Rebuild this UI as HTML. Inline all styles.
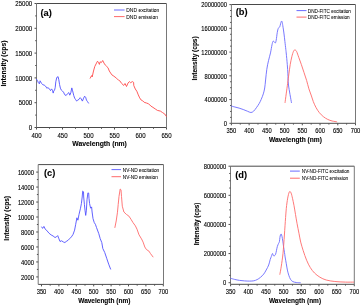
<!DOCTYPE html>
<html><head><meta charset="utf-8"><style>
html,body{margin:0;padding:0;background:#fff;width:361px;height:305px;overflow:hidden}
svg{display:block;font-family:"Liberation Sans", sans-serif}
</style></head><body>
<svg width="361" height="305" viewBox="0 0 361 305">
<defs><filter id="bl" x="0" y="0" width="361" height="305" filterUnits="userSpaceOnUse"><feGaussianBlur stdDeviation="0.3"/></filter></defs>
<rect width="361" height="305" fill="#fff"/>
<g filter="url(#bl)">
<line x1="36.50" y1="3.50" x2="166.50" y2="3.50" stroke="#4a4a4a" stroke-width="1"/>
<line x1="36.50" y1="127.50" x2="166.50" y2="127.50" stroke="#4a4a4a" stroke-width="1"/>
<line x1="36.50" y1="3.50" x2="36.50" y2="127.50" stroke="#787878" stroke-width="1"/>
<line x1="166.50" y1="3.50" x2="166.50" y2="127.50" stroke="#787878" stroke-width="1"/>
<line x1="36.50" y1="127.50" x2="36.50" y2="129.50" stroke="#505050" stroke-width="1"/>
<text transform="translate(36.50 134.80) scale(0.1 0.1250)" font-size="61.00" font-weight="normal" text-anchor="middle" dominant-baseline="central" fill="#000" stroke="#000" stroke-width="1.00">400</text>
<line x1="62.50" y1="127.50" x2="62.50" y2="129.50" stroke="#505050" stroke-width="1"/>
<text transform="translate(62.50 134.80) scale(0.1 0.1250)" font-size="61.00" font-weight="normal" text-anchor="middle" dominant-baseline="central" fill="#000" stroke="#000" stroke-width="1.00">450</text>
<line x1="88.50" y1="127.50" x2="88.50" y2="129.50" stroke="#505050" stroke-width="1"/>
<text transform="translate(88.50 134.80) scale(0.1 0.1250)" font-size="61.00" font-weight="normal" text-anchor="middle" dominant-baseline="central" fill="#000" stroke="#000" stroke-width="1.00">500</text>
<line x1="114.50" y1="127.50" x2="114.50" y2="129.50" stroke="#505050" stroke-width="1"/>
<text transform="translate(114.50 134.80) scale(0.1 0.1250)" font-size="61.00" font-weight="normal" text-anchor="middle" dominant-baseline="central" fill="#000" stroke="#000" stroke-width="1.00">550</text>
<line x1="140.50" y1="127.50" x2="140.50" y2="129.50" stroke="#505050" stroke-width="1"/>
<text transform="translate(140.50 134.80) scale(0.1 0.1250)" font-size="61.00" font-weight="normal" text-anchor="middle" dominant-baseline="central" fill="#000" stroke="#000" stroke-width="1.00">600</text>
<line x1="166.50" y1="127.50" x2="166.50" y2="129.50" stroke="#505050" stroke-width="1"/>
<text transform="translate(166.50 134.80) scale(0.1 0.1250)" font-size="61.00" font-weight="normal" text-anchor="middle" dominant-baseline="central" fill="#000" stroke="#000" stroke-width="1.00">650</text>
<line x1="49.50" y1="127.50" x2="49.50" y2="128.80" stroke="#505050" stroke-width="1"/>
<line x1="75.50" y1="127.50" x2="75.50" y2="128.80" stroke="#505050" stroke-width="1"/>
<line x1="101.50" y1="127.50" x2="101.50" y2="128.80" stroke="#505050" stroke-width="1"/>
<line x1="127.50" y1="127.50" x2="127.50" y2="128.80" stroke="#505050" stroke-width="1"/>
<line x1="153.50" y1="127.50" x2="153.50" y2="128.80" stroke="#505050" stroke-width="1"/>
<line x1="34.50" y1="127.50" x2="36.50" y2="127.50" stroke="#505050" stroke-width="1"/>
<text transform="translate(32.20 127.50) scale(0.1 0.1250)" font-size="61.00" font-weight="normal" text-anchor="end" dominant-baseline="central" fill="#000" stroke="#000" stroke-width="1.00">0</text>
<line x1="34.50" y1="102.70" x2="36.50" y2="102.70" stroke="#505050" stroke-width="1"/>
<text transform="translate(32.20 102.70) scale(0.1 0.1250)" font-size="61.00" font-weight="normal" text-anchor="end" dominant-baseline="central" fill="#000" stroke="#000" stroke-width="1.00">5000</text>
<line x1="34.50" y1="77.90" x2="36.50" y2="77.90" stroke="#505050" stroke-width="1"/>
<text transform="translate(32.20 77.90) scale(0.1 0.1250)" font-size="61.00" font-weight="normal" text-anchor="end" dominant-baseline="central" fill="#000" stroke="#000" stroke-width="1.00">10000</text>
<line x1="34.50" y1="53.10" x2="36.50" y2="53.10" stroke="#505050" stroke-width="1"/>
<text transform="translate(32.20 53.10) scale(0.1 0.1250)" font-size="61.00" font-weight="normal" text-anchor="end" dominant-baseline="central" fill="#000" stroke="#000" stroke-width="1.00">15000</text>
<line x1="34.50" y1="28.30" x2="36.50" y2="28.30" stroke="#505050" stroke-width="1"/>
<text transform="translate(32.20 28.30) scale(0.1 0.1250)" font-size="61.00" font-weight="normal" text-anchor="end" dominant-baseline="central" fill="#000" stroke="#000" stroke-width="1.00">20000</text>
<line x1="34.50" y1="3.50" x2="36.50" y2="3.50" stroke="#505050" stroke-width="1"/>
<text transform="translate(32.20 3.50) scale(0.1 0.1250)" font-size="61.00" font-weight="normal" text-anchor="end" dominant-baseline="central" fill="#000" stroke="#000" stroke-width="1.00">25000</text>
<line x1="35.20" y1="115.10" x2="36.50" y2="115.10" stroke="#505050" stroke-width="1"/>
<line x1="35.20" y1="90.30" x2="36.50" y2="90.30" stroke="#505050" stroke-width="1"/>
<line x1="35.20" y1="65.50" x2="36.50" y2="65.50" stroke="#505050" stroke-width="1"/>
<line x1="35.20" y1="40.70" x2="36.50" y2="40.70" stroke="#505050" stroke-width="1"/>
<line x1="35.20" y1="15.90" x2="36.50" y2="15.90" stroke="#505050" stroke-width="1"/>
<text transform="translate(99.60 143.40) scale(0.1 0.1000)" font-size="68.00" font-weight="bold" text-anchor="middle" dominant-baseline="central" fill="#000" stroke="#000" stroke-width="1.00">Wavelength (nm)</text>
<text transform="translate(3.90 63.50) rotate(-90) scale(0.1 0.1000)" font-size="68.00" font-weight="bold" text-anchor="middle" dominant-baseline="central" fill="#000" stroke="#000" stroke-width="1.00">Intensity (cps)</text>
<text transform="translate(40.40 12.60) scale(0.1 0.1000)" font-size="93.00" font-weight="bold" text-anchor="start" dominant-baseline="central" fill="#000" stroke="#000" stroke-width="1.00">(a)</text>
<line x1="114.00" y1="10.00" x2="124.60" y2="10.00" stroke="#6a6aff" stroke-width="1"/>
<line x1="114.00" y1="16.60" x2="124.60" y2="16.60" stroke="#ff6a6a" stroke-width="1"/>
<text transform="translate(126.30 10.00) scale(0.1 0.1120)" font-size="49.50" font-weight="normal" text-anchor="start" dominant-baseline="central" fill="#000" stroke="#000" stroke-width="0.50">DND excitation</text>
<text transform="translate(126.30 16.60) scale(0.1 0.1120)" font-size="49.50" font-weight="normal" text-anchor="start" dominant-baseline="central" fill="#000" stroke="#000" stroke-width="0.50">DND emission</text>
<line x1="231.40" y1="4.50" x2="355.50" y2="4.50" stroke="#4a4a4a" stroke-width="1"/>
<line x1="231.40" y1="123.30" x2="355.50" y2="123.30" stroke="#4a4a4a" stroke-width="1"/>
<line x1="231.40" y1="4.50" x2="231.40" y2="123.30" stroke="#787878" stroke-width="1"/>
<line x1="355.50" y1="4.50" x2="355.50" y2="123.30" stroke="#787878" stroke-width="1"/>
<line x1="231.40" y1="123.30" x2="231.40" y2="125.30" stroke="#505050" stroke-width="1"/>
<text transform="translate(231.40 130.50) scale(0.1 0.1250)" font-size="58.00" font-weight="normal" text-anchor="middle" dominant-baseline="central" fill="#000" stroke="#000" stroke-width="1.00">350</text>
<line x1="249.13" y1="123.30" x2="249.13" y2="125.30" stroke="#505050" stroke-width="1"/>
<text transform="translate(249.13 130.50) scale(0.1 0.1250)" font-size="58.00" font-weight="normal" text-anchor="middle" dominant-baseline="central" fill="#000" stroke="#000" stroke-width="1.00">400</text>
<line x1="266.86" y1="123.30" x2="266.86" y2="125.30" stroke="#505050" stroke-width="1"/>
<text transform="translate(266.86 130.50) scale(0.1 0.1250)" font-size="58.00" font-weight="normal" text-anchor="middle" dominant-baseline="central" fill="#000" stroke="#000" stroke-width="1.00">450</text>
<line x1="284.59" y1="123.30" x2="284.59" y2="125.30" stroke="#505050" stroke-width="1"/>
<text transform="translate(284.59 130.50) scale(0.1 0.1250)" font-size="58.00" font-weight="normal" text-anchor="middle" dominant-baseline="central" fill="#000" stroke="#000" stroke-width="1.00">500</text>
<line x1="302.31" y1="123.30" x2="302.31" y2="125.30" stroke="#505050" stroke-width="1"/>
<text transform="translate(302.31 130.50) scale(0.1 0.1250)" font-size="58.00" font-weight="normal" text-anchor="middle" dominant-baseline="central" fill="#000" stroke="#000" stroke-width="1.00">550</text>
<line x1="320.04" y1="123.30" x2="320.04" y2="125.30" stroke="#505050" stroke-width="1"/>
<text transform="translate(320.04 130.50) scale(0.1 0.1250)" font-size="58.00" font-weight="normal" text-anchor="middle" dominant-baseline="central" fill="#000" stroke="#000" stroke-width="1.00">600</text>
<line x1="337.77" y1="123.30" x2="337.77" y2="125.30" stroke="#505050" stroke-width="1"/>
<text transform="translate(337.77 130.50) scale(0.1 0.1250)" font-size="58.00" font-weight="normal" text-anchor="middle" dominant-baseline="central" fill="#000" stroke="#000" stroke-width="1.00">650</text>
<line x1="355.50" y1="123.30" x2="355.50" y2="125.30" stroke="#505050" stroke-width="1"/>
<text transform="translate(355.50 130.50) scale(0.1 0.1250)" font-size="58.00" font-weight="normal" text-anchor="middle" dominant-baseline="central" fill="#000" stroke="#000" stroke-width="1.00">700</text>
<line x1="240.26" y1="123.30" x2="240.26" y2="124.60" stroke="#505050" stroke-width="1"/>
<line x1="257.99" y1="123.30" x2="257.99" y2="124.60" stroke="#505050" stroke-width="1"/>
<line x1="275.72" y1="123.30" x2="275.72" y2="124.60" stroke="#505050" stroke-width="1"/>
<line x1="293.45" y1="123.30" x2="293.45" y2="124.60" stroke="#505050" stroke-width="1"/>
<line x1="311.18" y1="123.30" x2="311.18" y2="124.60" stroke="#505050" stroke-width="1"/>
<line x1="328.91" y1="123.30" x2="328.91" y2="124.60" stroke="#505050" stroke-width="1"/>
<line x1="346.64" y1="123.30" x2="346.64" y2="124.60" stroke="#505050" stroke-width="1"/>
<line x1="229.40" y1="123.30" x2="231.40" y2="123.30" stroke="#505050" stroke-width="1"/>
<text transform="translate(227.00 123.30) scale(0.1 0.1250)" font-size="58.00" font-weight="normal" text-anchor="end" dominant-baseline="central" fill="#000" stroke="#000" stroke-width="1.00">0</text>
<line x1="229.40" y1="99.56" x2="231.40" y2="99.56" stroke="#505050" stroke-width="1"/>
<text transform="translate(227.00 99.56) scale(0.1 0.1250)" font-size="58.00" font-weight="normal" text-anchor="end" dominant-baseline="central" fill="#000" stroke="#000" stroke-width="1.00">4000000</text>
<line x1="229.40" y1="75.82" x2="231.40" y2="75.82" stroke="#505050" stroke-width="1"/>
<text transform="translate(227.00 75.82) scale(0.1 0.1250)" font-size="58.00" font-weight="normal" text-anchor="end" dominant-baseline="central" fill="#000" stroke="#000" stroke-width="1.00">8000000</text>
<line x1="229.40" y1="52.08" x2="231.40" y2="52.08" stroke="#505050" stroke-width="1"/>
<text transform="translate(227.00 52.08) scale(0.1 0.1250)" font-size="58.00" font-weight="normal" text-anchor="end" dominant-baseline="central" fill="#000" stroke="#000" stroke-width="1.00">12000000</text>
<line x1="229.40" y1="28.34" x2="231.40" y2="28.34" stroke="#505050" stroke-width="1"/>
<text transform="translate(227.00 28.34) scale(0.1 0.1250)" font-size="58.00" font-weight="normal" text-anchor="end" dominant-baseline="central" fill="#000" stroke="#000" stroke-width="1.00">16000000</text>
<line x1="229.40" y1="4.60" x2="231.40" y2="4.60" stroke="#505050" stroke-width="1"/>
<text transform="translate(227.00 4.60) scale(0.1 0.1250)" font-size="58.00" font-weight="normal" text-anchor="end" dominant-baseline="central" fill="#000" stroke="#000" stroke-width="1.00">20000000</text>
<line x1="230.10" y1="117.36" x2="231.40" y2="117.36" stroke="#505050" stroke-width="1"/>
<line x1="230.10" y1="111.43" x2="231.40" y2="111.43" stroke="#505050" stroke-width="1"/>
<line x1="230.10" y1="105.50" x2="231.40" y2="105.50" stroke="#505050" stroke-width="1"/>
<line x1="230.10" y1="93.62" x2="231.40" y2="93.62" stroke="#505050" stroke-width="1"/>
<line x1="230.10" y1="87.69" x2="231.40" y2="87.69" stroke="#505050" stroke-width="1"/>
<line x1="230.10" y1="81.75" x2="231.40" y2="81.75" stroke="#505050" stroke-width="1"/>
<line x1="230.10" y1="69.88" x2="231.40" y2="69.88" stroke="#505050" stroke-width="1"/>
<line x1="230.10" y1="63.95" x2="231.40" y2="63.95" stroke="#505050" stroke-width="1"/>
<line x1="230.10" y1="58.02" x2="231.40" y2="58.02" stroke="#505050" stroke-width="1"/>
<line x1="230.10" y1="46.14" x2="231.40" y2="46.14" stroke="#505050" stroke-width="1"/>
<line x1="230.10" y1="40.21" x2="231.40" y2="40.21" stroke="#505050" stroke-width="1"/>
<line x1="230.10" y1="34.27" x2="231.40" y2="34.27" stroke="#505050" stroke-width="1"/>
<line x1="230.10" y1="22.41" x2="231.40" y2="22.41" stroke="#505050" stroke-width="1"/>
<line x1="230.10" y1="16.47" x2="231.40" y2="16.47" stroke="#505050" stroke-width="1"/>
<line x1="230.10" y1="10.53" x2="231.40" y2="10.53" stroke="#505050" stroke-width="1"/>
<text transform="translate(295.40 139.40) scale(0.1 0.1000)" font-size="66.00" font-weight="bold" text-anchor="middle" dominant-baseline="central" fill="#000" stroke="#000" stroke-width="1.00">Wavelength (nm)</text>
<text transform="translate(194.70 58.40) rotate(-90) scale(0.1 0.1000)" font-size="65.00" font-weight="bold" text-anchor="middle" dominant-baseline="central" fill="#000" stroke="#000" stroke-width="1.00">Intensity (cps)</text>
<text transform="translate(235.70 12.40) scale(0.1 0.1000)" font-size="93.00" font-weight="bold" text-anchor="start" dominant-baseline="central" fill="#000" stroke="#000" stroke-width="1.00">(b)</text>
<line x1="296.50" y1="10.60" x2="306.50" y2="10.60" stroke="#6a6aff" stroke-width="1"/>
<line x1="296.50" y1="17.10" x2="306.50" y2="17.10" stroke="#ff6a6a" stroke-width="1"/>
<text transform="translate(307.80 10.60) scale(0.1 0.1120)" font-size="47.00" font-weight="normal" text-anchor="start" dominant-baseline="central" fill="#000" stroke="#000" stroke-width="0.50">DND-FITC excitation</text>
<text transform="translate(307.80 17.10) scale(0.1 0.1120)" font-size="47.00" font-weight="normal" text-anchor="start" dominant-baseline="central" fill="#000" stroke="#000" stroke-width="0.50">DND-FITC emission</text>
<line x1="38.20" y1="164.60" x2="163.50" y2="164.60" stroke="#4a4a4a" stroke-width="1"/>
<line x1="38.20" y1="284.40" x2="163.50" y2="284.40" stroke="#4a4a4a" stroke-width="1"/>
<line x1="38.20" y1="164.60" x2="38.20" y2="284.40" stroke="#787878" stroke-width="1"/>
<line x1="163.50" y1="164.60" x2="163.50" y2="284.40" stroke="#787878" stroke-width="1"/>
<line x1="41.50" y1="284.40" x2="41.50" y2="286.40" stroke="#505050" stroke-width="1"/>
<text transform="translate(41.50 291.70) scale(0.1 0.1250)" font-size="58.00" font-weight="normal" text-anchor="middle" dominant-baseline="central" fill="#000" stroke="#000" stroke-width="1.00">350</text>
<line x1="58.90" y1="284.40" x2="58.90" y2="286.40" stroke="#505050" stroke-width="1"/>
<text transform="translate(58.90 291.70) scale(0.1 0.1250)" font-size="58.00" font-weight="normal" text-anchor="middle" dominant-baseline="central" fill="#000" stroke="#000" stroke-width="1.00">400</text>
<line x1="76.30" y1="284.40" x2="76.30" y2="286.40" stroke="#505050" stroke-width="1"/>
<text transform="translate(76.30 291.70) scale(0.1 0.1250)" font-size="58.00" font-weight="normal" text-anchor="middle" dominant-baseline="central" fill="#000" stroke="#000" stroke-width="1.00">450</text>
<line x1="93.70" y1="284.40" x2="93.70" y2="286.40" stroke="#505050" stroke-width="1"/>
<text transform="translate(93.70 291.70) scale(0.1 0.1250)" font-size="58.00" font-weight="normal" text-anchor="middle" dominant-baseline="central" fill="#000" stroke="#000" stroke-width="1.00">500</text>
<line x1="111.10" y1="284.40" x2="111.10" y2="286.40" stroke="#505050" stroke-width="1"/>
<text transform="translate(111.10 291.70) scale(0.1 0.1250)" font-size="58.00" font-weight="normal" text-anchor="middle" dominant-baseline="central" fill="#000" stroke="#000" stroke-width="1.00">550</text>
<line x1="128.50" y1="284.40" x2="128.50" y2="286.40" stroke="#505050" stroke-width="1"/>
<text transform="translate(128.50 291.70) scale(0.1 0.1250)" font-size="58.00" font-weight="normal" text-anchor="middle" dominant-baseline="central" fill="#000" stroke="#000" stroke-width="1.00">600</text>
<line x1="145.90" y1="284.40" x2="145.90" y2="286.40" stroke="#505050" stroke-width="1"/>
<text transform="translate(145.90 291.70) scale(0.1 0.1250)" font-size="58.00" font-weight="normal" text-anchor="middle" dominant-baseline="central" fill="#000" stroke="#000" stroke-width="1.00">650</text>
<line x1="163.30" y1="284.40" x2="163.30" y2="286.40" stroke="#505050" stroke-width="1"/>
<text transform="translate(163.30 291.70) scale(0.1 0.1250)" font-size="58.00" font-weight="normal" text-anchor="middle" dominant-baseline="central" fill="#000" stroke="#000" stroke-width="1.00">700</text>
<line x1="50.20" y1="284.40" x2="50.20" y2="285.70" stroke="#505050" stroke-width="1"/>
<line x1="67.60" y1="284.40" x2="67.60" y2="285.70" stroke="#505050" stroke-width="1"/>
<line x1="85.00" y1="284.40" x2="85.00" y2="285.70" stroke="#505050" stroke-width="1"/>
<line x1="102.40" y1="284.40" x2="102.40" y2="285.70" stroke="#505050" stroke-width="1"/>
<line x1="119.80" y1="284.40" x2="119.80" y2="285.70" stroke="#505050" stroke-width="1"/>
<line x1="137.20" y1="284.40" x2="137.20" y2="285.70" stroke="#505050" stroke-width="1"/>
<line x1="154.60" y1="284.40" x2="154.60" y2="285.70" stroke="#505050" stroke-width="1"/>
<line x1="36.20" y1="276.91" x2="38.20" y2="276.91" stroke="#505050" stroke-width="1"/>
<text transform="translate(34.00 276.91) scale(0.1 0.1250)" font-size="58.00" font-weight="normal" text-anchor="end" dominant-baseline="central" fill="#000" stroke="#000" stroke-width="1.00">2000</text>
<line x1="36.20" y1="261.94" x2="38.20" y2="261.94" stroke="#505050" stroke-width="1"/>
<text transform="translate(34.00 261.94) scale(0.1 0.1250)" font-size="58.00" font-weight="normal" text-anchor="end" dominant-baseline="central" fill="#000" stroke="#000" stroke-width="1.00">4000</text>
<line x1="36.20" y1="246.96" x2="38.20" y2="246.96" stroke="#505050" stroke-width="1"/>
<text transform="translate(34.00 246.96) scale(0.1 0.1250)" font-size="58.00" font-weight="normal" text-anchor="end" dominant-baseline="central" fill="#000" stroke="#000" stroke-width="1.00">6000</text>
<line x1="36.20" y1="231.99" x2="38.20" y2="231.99" stroke="#505050" stroke-width="1"/>
<text transform="translate(34.00 231.99) scale(0.1 0.1250)" font-size="58.00" font-weight="normal" text-anchor="end" dominant-baseline="central" fill="#000" stroke="#000" stroke-width="1.00">8000</text>
<line x1="36.20" y1="217.01" x2="38.20" y2="217.01" stroke="#505050" stroke-width="1"/>
<text transform="translate(34.00 217.01) scale(0.1 0.1250)" font-size="58.00" font-weight="normal" text-anchor="end" dominant-baseline="central" fill="#000" stroke="#000" stroke-width="1.00">10000</text>
<line x1="36.20" y1="202.04" x2="38.20" y2="202.04" stroke="#505050" stroke-width="1"/>
<text transform="translate(34.00 202.04) scale(0.1 0.1250)" font-size="58.00" font-weight="normal" text-anchor="end" dominant-baseline="central" fill="#000" stroke="#000" stroke-width="1.00">12000</text>
<line x1="36.20" y1="187.06" x2="38.20" y2="187.06" stroke="#505050" stroke-width="1"/>
<text transform="translate(34.00 187.06) scale(0.1 0.1250)" font-size="58.00" font-weight="normal" text-anchor="end" dominant-baseline="central" fill="#000" stroke="#000" stroke-width="1.00">14000</text>
<line x1="36.20" y1="172.09" x2="38.20" y2="172.09" stroke="#505050" stroke-width="1"/>
<text transform="translate(34.00 172.09) scale(0.1 0.1250)" font-size="58.00" font-weight="normal" text-anchor="end" dominant-baseline="central" fill="#000" stroke="#000" stroke-width="1.00">16000</text>
<line x1="36.90" y1="269.42" x2="38.20" y2="269.42" stroke="#505050" stroke-width="1"/>
<line x1="36.90" y1="254.45" x2="38.20" y2="254.45" stroke="#505050" stroke-width="1"/>
<line x1="36.90" y1="239.47" x2="38.20" y2="239.47" stroke="#505050" stroke-width="1"/>
<line x1="36.90" y1="224.50" x2="38.20" y2="224.50" stroke="#505050" stroke-width="1"/>
<line x1="36.90" y1="209.52" x2="38.20" y2="209.52" stroke="#505050" stroke-width="1"/>
<line x1="36.90" y1="194.55" x2="38.20" y2="194.55" stroke="#505050" stroke-width="1"/>
<line x1="36.90" y1="179.57" x2="38.20" y2="179.57" stroke="#505050" stroke-width="1"/>
<text transform="translate(104.30 300.00) scale(0.1 0.1000)" font-size="65.00" font-weight="bold" text-anchor="middle" dominant-baseline="central" fill="#000" stroke="#000" stroke-width="1.00">Wavelength (nm)</text>
<text transform="translate(6.10 218.30) rotate(-90) scale(0.1 0.1000)" font-size="66.00" font-weight="bold" text-anchor="middle" dominant-baseline="central" fill="#000" stroke="#000" stroke-width="1.00">Intensity (cps)</text>
<text transform="translate(44.00 173.40) scale(0.1 0.1000)" font-size="93.00" font-weight="bold" text-anchor="start" dominant-baseline="central" fill="#000" stroke="#000" stroke-width="1.00">(c)</text>
<line x1="111.50" y1="169.60" x2="121.00" y2="169.60" stroke="#6a6aff" stroke-width="1"/>
<line x1="111.50" y1="176.70" x2="121.00" y2="176.70" stroke="#ff6a6a" stroke-width="1"/>
<text transform="translate(122.80 169.60) scale(0.1 0.1120)" font-size="48.00" font-weight="normal" text-anchor="start" dominant-baseline="central" fill="#000" stroke="#000" stroke-width="0.50">NV-ND excitation</text>
<text transform="translate(122.80 176.70) scale(0.1 0.1120)" font-size="48.00" font-weight="normal" text-anchor="start" dominant-baseline="central" fill="#000" stroke="#000" stroke-width="0.50">NV-ND emission</text>
<line x1="230.50" y1="166.20" x2="354.30" y2="166.20" stroke="#4a4a4a" stroke-width="1"/>
<line x1="230.50" y1="284.30" x2="354.30" y2="284.30" stroke="#4a4a4a" stroke-width="1"/>
<line x1="230.50" y1="166.20" x2="230.50" y2="284.30" stroke="#787878" stroke-width="1"/>
<line x1="354.30" y1="166.20" x2="354.30" y2="284.30" stroke="#787878" stroke-width="1"/>
<line x1="230.60" y1="284.30" x2="230.60" y2="286.30" stroke="#505050" stroke-width="1"/>
<text transform="translate(230.60 291.50) scale(0.1 0.1250)" font-size="58.00" font-weight="normal" text-anchor="middle" dominant-baseline="central" fill="#000" stroke="#000" stroke-width="1.00">350</text>
<line x1="248.27" y1="284.30" x2="248.27" y2="286.30" stroke="#505050" stroke-width="1"/>
<text transform="translate(248.27 291.50) scale(0.1 0.1250)" font-size="58.00" font-weight="normal" text-anchor="middle" dominant-baseline="central" fill="#000" stroke="#000" stroke-width="1.00">400</text>
<line x1="265.94" y1="284.30" x2="265.94" y2="286.30" stroke="#505050" stroke-width="1"/>
<text transform="translate(265.94 291.50) scale(0.1 0.1250)" font-size="58.00" font-weight="normal" text-anchor="middle" dominant-baseline="central" fill="#000" stroke="#000" stroke-width="1.00">450</text>
<line x1="283.61" y1="284.30" x2="283.61" y2="286.30" stroke="#505050" stroke-width="1"/>
<text transform="translate(283.61 291.50) scale(0.1 0.1250)" font-size="58.00" font-weight="normal" text-anchor="middle" dominant-baseline="central" fill="#000" stroke="#000" stroke-width="1.00">500</text>
<line x1="301.29" y1="284.30" x2="301.29" y2="286.30" stroke="#505050" stroke-width="1"/>
<text transform="translate(301.29 291.50) scale(0.1 0.1250)" font-size="58.00" font-weight="normal" text-anchor="middle" dominant-baseline="central" fill="#000" stroke="#000" stroke-width="1.00">550</text>
<line x1="318.96" y1="284.30" x2="318.96" y2="286.30" stroke="#505050" stroke-width="1"/>
<text transform="translate(318.96 291.50) scale(0.1 0.1250)" font-size="58.00" font-weight="normal" text-anchor="middle" dominant-baseline="central" fill="#000" stroke="#000" stroke-width="1.00">600</text>
<line x1="336.63" y1="284.30" x2="336.63" y2="286.30" stroke="#505050" stroke-width="1"/>
<text transform="translate(336.63 291.50) scale(0.1 0.1250)" font-size="58.00" font-weight="normal" text-anchor="middle" dominant-baseline="central" fill="#000" stroke="#000" stroke-width="1.00">650</text>
<line x1="354.30" y1="284.30" x2="354.30" y2="286.30" stroke="#505050" stroke-width="1"/>
<text transform="translate(354.30 291.50) scale(0.1 0.1250)" font-size="58.00" font-weight="normal" text-anchor="middle" dominant-baseline="central" fill="#000" stroke="#000" stroke-width="1.00">700</text>
<line x1="239.44" y1="284.30" x2="239.44" y2="285.60" stroke="#505050" stroke-width="1"/>
<line x1="257.11" y1="284.30" x2="257.11" y2="285.60" stroke="#505050" stroke-width="1"/>
<line x1="274.78" y1="284.30" x2="274.78" y2="285.60" stroke="#505050" stroke-width="1"/>
<line x1="292.45" y1="284.30" x2="292.45" y2="285.60" stroke="#505050" stroke-width="1"/>
<line x1="310.12" y1="284.30" x2="310.12" y2="285.60" stroke="#505050" stroke-width="1"/>
<line x1="327.79" y1="284.30" x2="327.79" y2="285.60" stroke="#505050" stroke-width="1"/>
<line x1="345.46" y1="284.30" x2="345.46" y2="285.60" stroke="#505050" stroke-width="1"/>
<line x1="228.50" y1="282.70" x2="230.50" y2="282.70" stroke="#505050" stroke-width="1"/>
<text transform="translate(226.20 282.70) scale(0.1 0.1250)" font-size="58.00" font-weight="normal" text-anchor="end" dominant-baseline="central" fill="#000" stroke="#000" stroke-width="1.00">0</text>
<line x1="228.50" y1="253.57" x2="230.50" y2="253.57" stroke="#505050" stroke-width="1"/>
<text transform="translate(226.20 253.57) scale(0.1 0.1250)" font-size="58.00" font-weight="normal" text-anchor="end" dominant-baseline="central" fill="#000" stroke="#000" stroke-width="1.00">2000000</text>
<line x1="228.50" y1="224.45" x2="230.50" y2="224.45" stroke="#505050" stroke-width="1"/>
<text transform="translate(226.20 224.45) scale(0.1 0.1250)" font-size="58.00" font-weight="normal" text-anchor="end" dominant-baseline="central" fill="#000" stroke="#000" stroke-width="1.00">4000000</text>
<line x1="228.50" y1="195.32" x2="230.50" y2="195.32" stroke="#505050" stroke-width="1"/>
<text transform="translate(226.20 195.32) scale(0.1 0.1250)" font-size="58.00" font-weight="normal" text-anchor="end" dominant-baseline="central" fill="#000" stroke="#000" stroke-width="1.00">6000000</text>
<line x1="228.50" y1="166.20" x2="230.50" y2="166.20" stroke="#505050" stroke-width="1"/>
<text transform="translate(226.20 166.20) scale(0.1 0.1250)" font-size="58.00" font-weight="normal" text-anchor="end" dominant-baseline="central" fill="#000" stroke="#000" stroke-width="1.00">8000000</text>
<line x1="229.20" y1="275.42" x2="230.50" y2="275.42" stroke="#505050" stroke-width="1"/>
<line x1="229.20" y1="268.14" x2="230.50" y2="268.14" stroke="#505050" stroke-width="1"/>
<line x1="229.20" y1="260.86" x2="230.50" y2="260.86" stroke="#505050" stroke-width="1"/>
<line x1="229.20" y1="246.29" x2="230.50" y2="246.29" stroke="#505050" stroke-width="1"/>
<line x1="229.20" y1="239.01" x2="230.50" y2="239.01" stroke="#505050" stroke-width="1"/>
<line x1="229.20" y1="231.73" x2="230.50" y2="231.73" stroke="#505050" stroke-width="1"/>
<line x1="229.20" y1="217.17" x2="230.50" y2="217.17" stroke="#505050" stroke-width="1"/>
<line x1="229.20" y1="209.89" x2="230.50" y2="209.89" stroke="#505050" stroke-width="1"/>
<line x1="229.20" y1="202.61" x2="230.50" y2="202.61" stroke="#505050" stroke-width="1"/>
<line x1="229.20" y1="188.04" x2="230.50" y2="188.04" stroke="#505050" stroke-width="1"/>
<line x1="229.20" y1="180.76" x2="230.50" y2="180.76" stroke="#505050" stroke-width="1"/>
<line x1="229.20" y1="173.48" x2="230.50" y2="173.48" stroke="#505050" stroke-width="1"/>
<text transform="translate(295.00 300.40) scale(0.1 0.1000)" font-size="65.00" font-weight="bold" text-anchor="middle" dominant-baseline="central" fill="#000" stroke="#000" stroke-width="1.00">Wavelength (nm)</text>
<text transform="translate(196.20 224.00) rotate(-90) scale(0.1 0.1000)" font-size="63.00" font-weight="bold" text-anchor="middle" dominant-baseline="central" fill="#000" stroke="#000" stroke-width="1.00">Intensity (cps)</text>
<text transform="translate(235.20 175.20) scale(0.1 0.1000)" font-size="93.00" font-weight="bold" text-anchor="start" dominant-baseline="central" fill="#000" stroke="#000" stroke-width="1.00">(d)</text>
<line x1="290.00" y1="171.10" x2="299.80" y2="171.10" stroke="#6a6aff" stroke-width="1"/>
<line x1="290.00" y1="178.20" x2="299.80" y2="178.20" stroke="#ff6a6a" stroke-width="1"/>
<text transform="translate(301.80 171.10) scale(0.1 0.1120)" font-size="47.00" font-weight="normal" text-anchor="start" dominant-baseline="central" fill="#000" stroke="#000" stroke-width="0.50">NV-ND-FITC excitation</text>
<text transform="translate(301.80 178.20) scale(0.1 0.1120)" font-size="47.00" font-weight="normal" text-anchor="start" dominant-baseline="central" fill="#000" stroke="#000" stroke-width="0.50">NV-ND-FITC emission</text>
<polyline points="36.50,79.30 37.50,80.60 38.40,82.80 39.40,83.80 40.10,80.80 40.70,81.80 41.40,83.30 42.90,84.70 44.30,85.20 45.30,85.90 46.30,87.20 46.80,88.20 47.80,87.70 48.80,88.20 49.80,89.70 50.50,90.60 51.50,88.90 52.50,90.20 53.20,93.10 53.70,91.10 54.50,90.20 55.20,87.70 55.80,81.80 56.80,77.40 58.10,76.70 58.80,79.80 59.60,84.70 60.40,88.20 61.40,90.20 62.50,91.10 63.50,92.10 64.70,94.70 66.10,95.50 67.40,93.80 68.80,92.60 69.80,95.20 70.80,92.80 71.80,87.90 72.60,90.80 73.80,95.70 74.70,98.20 75.70,99.70 76.70,101.10 77.70,100.20 79.20,99.20 80.20,97.70 81.10,98.70 82.40,101.10 83.60,98.20 84.60,96.20 85.60,97.20 86.50,100.20 87.50,101.60 88.50,103.10" fill="none" stroke="#5050ff" stroke-width="0.9" stroke-linejoin="round" stroke-linecap="round"/>
<polyline points="90.20,78.20 91.60,75.60 92.20,76.90 93.50,71.00 94.80,66.40 96.50,63.10 97.50,61.20 98.50,62.50 99.40,64.40 100.10,61.80 101.40,62.50 102.70,60.50 104.00,63.10 105.30,65.10 106.70,66.40 108.00,67.70 109.30,71.00 110.60,73.00 111.90,74.90 113.90,76.20 116.50,78.20 118.50,80.20 119.80,80.80 121.70,83.50 123.70,85.40 125.00,83.50 126.50,86.50 128.00,83.10 129.40,81.60 130.60,82.70 132.40,81.60 133.60,82.40 133.80,85.60 135.30,89.00 136.80,91.20 138.30,94.90 139.70,97.90 141.20,100.10 142.70,100.80 144.20,102.30 146.40,103.00 148.60,103.80 150.80,106.00 153.00,107.40 155.20,108.90 157.40,110.40 160.40,111.10 162.60,112.60 164.80,114.10 166.30,116.30" fill="none" stroke="#ff4a4a" stroke-width="0.9" stroke-linejoin="round" stroke-linecap="round"/>
<path d="M231.00,106.00 C231.65,106.17 233.55,106.65 234.90,107.00 C236.25,107.35 237.72,107.68 239.10,108.10 C240.48,108.52 241.82,108.98 243.20,109.50 C244.58,110.02 246.12,110.70 247.40,111.20 C248.68,111.70 249.87,112.50 250.90,112.50 C251.93,112.50 252.68,112.00 253.60,111.20 C254.52,110.40 255.47,108.98 256.40,107.70 C257.33,106.42 258.40,104.88 259.20,103.50 C260.00,102.12 260.52,101.00 261.20,99.40 C261.88,97.80 262.72,95.80 263.30,93.90 C263.88,92.00 264.32,90.32 264.70,88.00 C265.08,85.68 265.25,83.12 265.60,80.00 C265.95,76.88 266.32,72.52 266.80,69.30 C267.28,66.08 267.88,63.43 268.50,60.70 C269.12,57.97 269.92,55.55 270.50,52.90 C271.08,50.25 271.57,46.75 272.00,44.80 C272.43,42.85 272.70,41.65 273.10,41.20 C273.50,40.75 274.03,41.80 274.40,42.10 C274.77,42.40 275.00,43.32 275.30,43.00 C275.60,42.68 275.87,41.98 276.20,40.20 C276.53,38.42 276.95,34.27 277.30,32.30 C277.65,30.33 277.90,29.32 278.30,28.40 C278.70,27.48 279.32,27.57 279.70,26.80 C280.08,26.03 280.30,24.75 280.60,23.80 C280.90,22.85 281.22,21.32 281.50,21.10 C281.78,20.88 282.08,21.73 282.30,22.50 C282.52,23.27 282.53,23.95 282.80,25.70 C283.07,27.45 283.55,30.37 283.90,33.00 C284.25,35.63 284.58,38.78 284.90,41.50 C285.22,44.22 285.58,47.40 285.80,49.30 C286.02,51.20 285.95,50.33 286.20,52.90 C286.45,55.47 287.02,61.20 287.30,64.70 C287.58,68.20 287.70,70.52 287.90,73.90 C288.10,77.28 287.90,80.17 288.50,85.00 C289.10,89.83 291.00,99.92 291.50,102.90" fill="none" stroke="#6a6aff" stroke-width="0.9" stroke-linejoin="round"/>
<path d="M285.00,102.90 C285.43,99.70 286.95,88.53 287.60,83.70 C288.25,78.87 288.47,77.07 288.90,73.90 C289.33,70.73 289.72,67.55 290.20,64.70 C290.68,61.85 291.25,59.03 291.80,56.80 C292.35,54.57 293.00,52.43 293.50,51.30 C294.00,50.17 294.30,50.00 294.80,50.00 C295.30,50.00 295.83,50.05 296.50,51.30 C297.17,52.55 297.98,55.27 298.80,57.50 C299.62,59.73 300.53,62.20 301.40,64.70 C302.27,67.20 303.13,69.88 304.00,72.50 C304.87,75.12 305.78,77.68 306.60,80.40 C307.42,83.12 308.15,86.37 308.90,88.80 C309.65,91.23 310.37,92.87 311.10,95.00 C311.83,97.13 312.47,99.48 313.30,101.60 C314.13,103.72 315.08,105.85 316.10,107.70 C317.12,109.55 318.20,111.22 319.40,112.70 C320.60,114.18 321.92,115.48 323.30,116.60 C324.68,117.72 326.22,118.67 327.70,119.40 C329.18,120.13 330.63,120.58 332.20,121.00 C333.77,121.42 336.28,121.75 337.10,121.90" fill="none" stroke="#ff6a6a" stroke-width="0.9" stroke-linejoin="round"/>
<polyline points="41.70,227.00 42.60,228.40 43.90,226.40 45.20,229.00 47.20,231.00 49.10,233.30 51.10,234.90 53.10,236.00 55.00,237.50 56.40,236.90 57.70,235.60 58.70,238.20 60.00,241.50 61.60,240.80 63.60,242.10 64.90,242.50 66.20,241.50 68.20,240.20 70.10,238.20 71.40,236.90 73.10,234.30 74.60,230.10 75.70,224.30 76.90,217.80 77.90,220.20 79.00,214.50 80.50,208.20 81.40,203.60 82.20,197.00 82.70,191.10 83.50,191.80 83.70,197.00 84.40,204.30 85.00,210.20 85.70,215.40 86.40,210.20 87.00,199.70 87.90,192.90 88.70,193.10 89.00,198.40 89.60,203.60 90.60,208.20 91.60,206.90 92.10,212.00 93.00,218.60 94.30,222.70 95.40,224.30 96.50,227.50 98.80,233.70 100.20,238.60 101.80,242.60 102.80,248.50 104.70,252.40 106.70,258.30 108.70,264.20 110.60,269.10" fill="none" stroke="#5050ff" stroke-width="0.9" stroke-linejoin="round" stroke-linecap="round"/>
<polyline points="114.90,227.50 116.20,221.00 117.40,212.80 118.20,204.60 119.00,196.40 120.20,189.00 121.00,189.80 121.50,196.40 122.30,206.20 123.90,212.00 126.40,214.40 128.90,216.10 131.00,219.30 133.00,222.60 135.40,225.90 137.00,229.20 139.00,234.80 141.50,238.90 143.10,242.10 144.80,247.00 146.40,249.50 148.90,251.10 150.50,253.60 153.00,256.90" fill="none" stroke="#ff6a6a" stroke-width="0.9" stroke-linejoin="round" stroke-linecap="round"/>
<path d="M230.50,278.30 C231.18,278.48 233.08,279.05 234.60,279.40 C236.12,279.75 237.93,280.15 239.60,280.40 C241.27,280.65 242.93,280.78 244.60,280.90 C246.27,281.02 248.07,281.12 249.60,281.10 C251.13,281.08 252.55,281.05 253.80,280.80 C255.05,280.55 256.00,280.17 257.10,279.60 C258.20,279.03 259.30,278.32 260.40,277.40 C261.50,276.48 262.73,275.33 263.70,274.10 C264.67,272.87 265.37,271.52 266.20,270.00 C267.03,268.48 268.03,266.75 268.70,265.00 C269.37,263.25 269.77,260.90 270.20,259.50 C270.63,258.10 270.92,257.60 271.30,256.60 C271.68,255.60 272.17,253.68 272.50,253.50 C272.83,253.32 272.98,255.12 273.30,255.50 C273.62,255.88 274.02,256.00 274.40,255.80 C274.78,255.60 275.25,255.22 275.60,254.30 C275.95,253.38 276.20,251.63 276.50,250.30 C276.80,248.97 277.05,247.45 277.40,246.30 C277.75,245.15 278.27,244.17 278.60,243.40 C278.93,242.63 279.18,242.67 279.40,241.70 C279.62,240.73 279.72,238.75 279.90,237.60 C280.08,236.45 280.27,235.37 280.50,234.80 C280.73,234.23 281.05,233.92 281.30,234.20 C281.55,234.48 281.75,235.35 282.00,236.50 C282.25,237.65 282.53,239.38 282.80,241.10 C283.07,242.82 283.32,244.88 283.60,246.80 C283.88,248.72 284.25,250.92 284.50,252.60 C284.75,254.28 284.80,255.03 285.10,256.90 C285.40,258.77 285.92,261.60 286.30,263.80 C286.68,266.00 286.98,268.18 287.40,270.10 C287.82,272.02 288.28,273.77 288.80,275.30 C289.32,276.83 289.83,278.25 290.50,279.30 C291.17,280.35 291.83,281.07 292.80,281.60 C293.77,282.13 294.98,282.30 296.30,282.50 C297.62,282.70 299.97,282.75 300.70,282.80" fill="none" stroke="#6a6aff" stroke-width="0.9" stroke-linejoin="round"/>
<path d="M279.80,274.70 C280.05,273.27 280.77,269.65 281.30,266.10 C281.83,262.55 282.48,258.58 283.00,253.40 C283.52,248.22 283.97,241.00 284.40,235.00 C284.83,229.00 285.23,222.30 285.60,217.40 C285.97,212.50 286.18,209.15 286.60,205.60 C287.02,202.05 287.60,198.43 288.10,196.10 C288.60,193.77 289.10,192.10 289.60,191.60 C290.10,191.10 290.62,191.98 291.10,193.10 C291.58,194.22 292.02,196.22 292.50,198.30 C292.98,200.38 293.50,202.90 294.00,205.60 C294.50,208.30 295.00,211.55 295.50,214.50 C296.00,217.45 296.42,220.13 297.00,223.30 C297.58,226.47 298.38,230.37 299.00,233.50 C299.62,236.63 300.00,239.25 300.70,242.10 C301.40,244.95 302.22,247.58 303.20,250.60 C304.18,253.62 305.42,257.37 306.60,260.20 C307.78,263.03 308.98,265.47 310.30,267.60 C311.62,269.73 312.90,271.40 314.50,273.00 C316.10,274.60 317.95,276.03 319.90,277.20 C321.85,278.37 323.72,279.28 326.20,280.00 C328.68,280.72 331.60,281.15 334.80,281.50 C338.00,281.85 342.20,282.00 345.40,282.10 C348.60,282.20 352.57,282.10 354.00,282.10" fill="none" stroke="#ff6a6a" stroke-width="0.9" stroke-linejoin="round"/>
</g>
</svg>
</body></html>
